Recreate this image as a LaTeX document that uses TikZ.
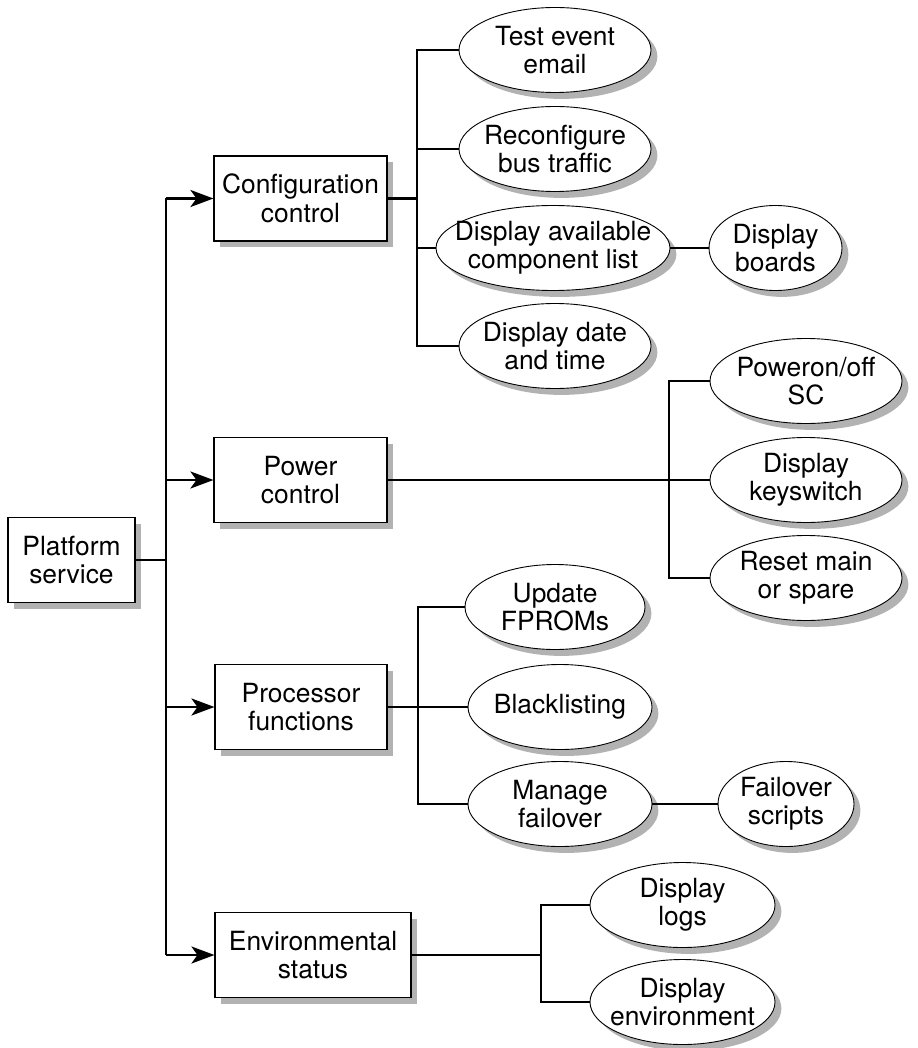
\documentclass[tikz,border=0pt]{standalone}
\usepackage{fontspec}
\setmainfont{TeX Gyre Heros}
\usetikzlibrary{arrows.meta, shapes.geometric, shadows}

\tikzset{
  grayshadow/.style={drop shadow={shadow xshift=3.2pt, shadow yshift=-3.2pt, fill=black!30, opacity=1}},
  box/.style={draw, line width=0.55pt, fill=white, grayshadow, align=center, inner sep=0pt,
    minimum width=#1, minimum height=42.5pt},
  oval/.style={ellipse, draw, line width=0.45pt, fill=white, grayshadow, align=center,
    inner xsep=-40pt, inner ysep=0pt, minimum width=#1, minimum height=42.5pt},
  link/.style={line width=1.3pt},
  tip/.style={-{Stealth[length=11.5pt, width=8.5pt, inset=3pt]}}
}

\begin{document}
\begin{tikzpicture}[x=0.5pt, y=-0.5pt, font=\fontsize{13.2pt}{14.2pt}\selectfont]
                  \useasboundingbox (0,0) rectangle (917,1048);

                  \node[box=63.5pt] (pf) at (71.5,560) {Platform\\service};
                  \node[box=86.5pt] (cfg) at (300.5,198.5) {Configuration\\control};
                  \node[box=86.5pt] (pw) at (300.5,480) {Power\\control};
                  \node[box=86pt] (pr) at (301,707) {Processor\\functions};
                  \node[box=98pt] (env) at (313,955) {Environmental\\status};

                  \node[oval=96pt] (te) at (555,50) {Test event\\email};
                  \node[oval=96pt] (rb) at (555,149) {Reconfigure\\bus traffic};
                  \node[oval=117pt] (da) at (553,248) {Display available\\component list};
                  \node[oval=66.5pt] (db) at (775.5,248) {Display\\boards};
                  \node[oval=96pt] (dt) at (555,346) {Display date\\and time};

                  \node[oval=96pt] (po) at (806,381) {Poweron/off\\SC};
                  \node[oval=96pt] (ks) at (806,480) {Display\\keyswitch};
                  \node[oval=96pt] (rs) at (806,578) {Reset main\\or spare};

                  \node[oval=90pt] (uf) at (555,607) {Update\\FPROMs};
                  \node[oval=92pt] (bl) at (560,707) {Blacklisting};
                  \node[oval=92pt] (mf) at (560,804) {Manage\\failover};
                  \node[oval=68pt] (fs) at (786,804) {Failover\\scripts};

                  \node[oval=92.5pt] (dl) at (682.5,905) {Display\\logs};
                  \node[oval=92.5pt] (de) at (682.5,1002) {Display\\environment};

                  \coordinate (tr) at (166,0);
                  \coordinate (cb) at (417,0);
                  \coordinate (pb) at (669,0);
                  \coordinate (prb) at (418,0);
                  \coordinate (eb) at (541,0);

                  \draw[link] (pf.east) -- (pf -| tr);
                  \draw[link] (tr |- cfg) -- (tr |- env);
                  \foreach \b in {cfg, pw, pr, env}
                  \draw[link, tip] (tr |- \b) -- (\b.west);

                  \draw[link] (cfg.east) -- (cfg -| cb);
                  \draw[link] (te.west) -- (te -| cb) -- (dt -| cb) -- (dt.west);
                  \foreach \o in {rb, da}
                  \draw[link] (\o -| cb) -- (\o.west);
                  \draw[link] (da) -- (db);

                  \draw[link] (pw.east) -- (ks.west);
                  \draw[link] (po.west) -- (po -| pb) -- (rs -| pb) -- (rs.west);

                  \draw[link] (pr.east) -- (bl.west);
                  \draw[link] (uf.west) -- (uf -| prb) -- (mf -| prb) -- (mf.west);
                  \draw[link] (mf) -- (fs);

                  \draw[link] (env.east) -- (env -| eb);
                  \draw[link] (dl.west) -- (dl -| eb) -- (de -| eb) -- (de.west);
              \end{tikzpicture}
\end{document}
